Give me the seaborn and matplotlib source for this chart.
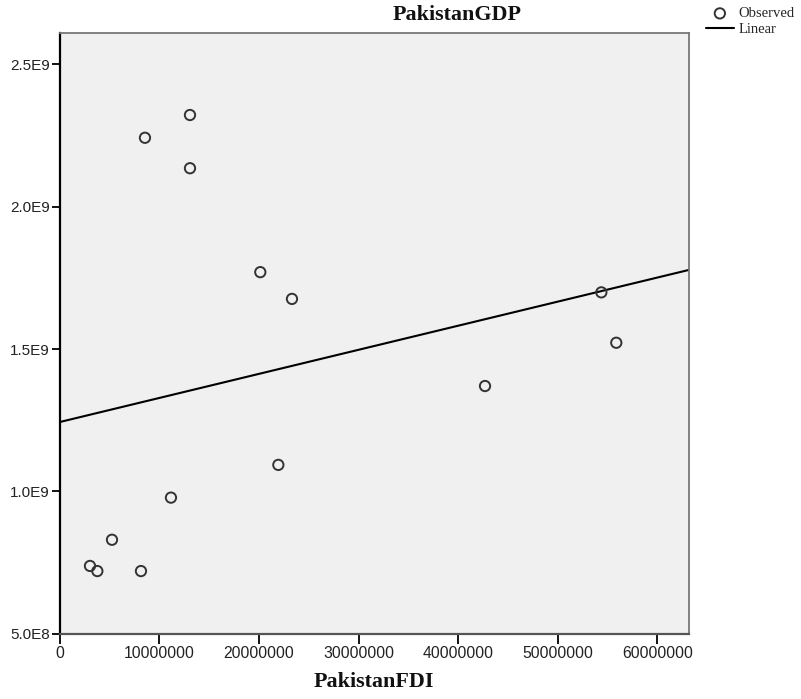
import matplotlib
matplotlib.use("Agg")
import matplotlib.pyplot as plt
import seaborn as sns
import numpy as np
import pandas as pd

# Data
fdi = [13.08e6, 8.56e6, 13.08e6, 20.14e6, 23.32e6, 21.95e6, 11.17e6,
       5.25e6, 3.04e6, 3.78e6, 8.16e6, 54.38e6, 55.88e6, 42.70e6]
gdp = [2.322e9, 2.242e9, 2.135e9, 1.770e9, 1.676e9, 1.093e9, 0.978e9,
       0.830e9, 0.738e9, 0.720e9, 0.720e9, 1.699e9, 1.522e9, 1.370e9]

x_ticks = [0, 10e6, 20e6, 30e6, 40e6, 50e6, 60e6]
x_tick_labels = ["0", "10000000", "20000000", "30000000", "40000000", "50000000", "60000000"]
y_ticks = [0.5e9, 1.0e9, 1.5e9, 2.0e9, 2.5e9]
y_tick_labels = ["5.0E8", "1.0E9", "1.5E9", "2.0E9", "2.5E9"]

df = pd.DataFrame({"PakistanFDI": fdi, "PakistanGDP": gdp})

sns.set_style("white")
plt.rcParams["font.family"] = ["Liberation Sans", "DejaVu Sans"]

W, H = 801, 699
fig = plt.figure(figsize=(W / 100, H / 100), dpi=100)
ax = fig.add_axes([59.7 / W, 1 - 633.7 / H, (688.7 - 59.7) / W, (633.7 - 33.3) / H])
ax.set_facecolor("#F0F0F0")

ax.set_xlim(0, 63.15e6)
ax.set_ylim(0.5e9, 2.609e9)

sns.scatterplot(data=df, x="PakistanFDI", y="PakistanGDP", ax=ax,
                marker="o", s=55, facecolor="none", edgecolor="#333333",
                linewidth=1.4, label="Observed", zorder=3)
sns.regplot(data=df, x="PakistanFDI", y="PakistanGDP", ax=ax, scatter=False,
            ci=None, truncate=False,
            line_kws=dict(color="black", lw=1.5))
ax.lines[-1].set_label("Linear")

ax.set_xlim(0, 63.15e6)
ax.set_ylim(0.5e9, 2.609e9)
ax.set_xticks(x_ticks)
ax.set_xticklabels(x_tick_labels)
ax.set_yticks(y_ticks)
ax.set_yticklabels(y_tick_labels)
ax.tick_params(axis="both", direction="out", length=6, width=1.3, color="black",
               labelsize=11.3, labelcolor="#222222", pad=1.5,
               bottom=True, left=True, top=False, right=False)
ax.tick_params(axis="x", length=7)
ax.tick_params(axis="y", pad=1, labelsize=11)

ax.spines["left"].set_color("black")
ax.spines["left"].set_linewidth(1.6)
ax.spines["bottom"].set_color("#555555")
ax.spines["bottom"].set_linewidth(1.6)
for side in ["top", "right"]:
    ax.spines[side].set_color("#777777")
    ax.spines[side].set_linewidth(1.3)
    ax.spines[side].set_visible(True)

ax.set_xlabel("PakistanFDI", family=["Liberation Serif", "DejaVu Serif"],
              fontweight="bold", fontsize=15.8, labelpad=8, color="#111111")
ax.set_ylabel("")

fig.text(393 / W, 1 - 15 / H, "PakistanGDP", family=["Liberation Serif", "DejaVu Serif"],
         fontweight="bold", fontsize=15.8, ha="left", va="center", color="#111111")

leg = ax.legend(loc="upper left", bbox_to_anchor=(706 / W, 1 - 7 / H),
                bbox_transform=fig.transFigure, frameon=False,
                prop=dict(family=["Liberation Serif", "DejaVu Serif"], size=10.5),
                handlelength=1.9, handletextpad=0.35, labelspacing=0.2,
                borderpad=0, borderaxespad=0)

fig.savefig("out.png", dpi=100)
